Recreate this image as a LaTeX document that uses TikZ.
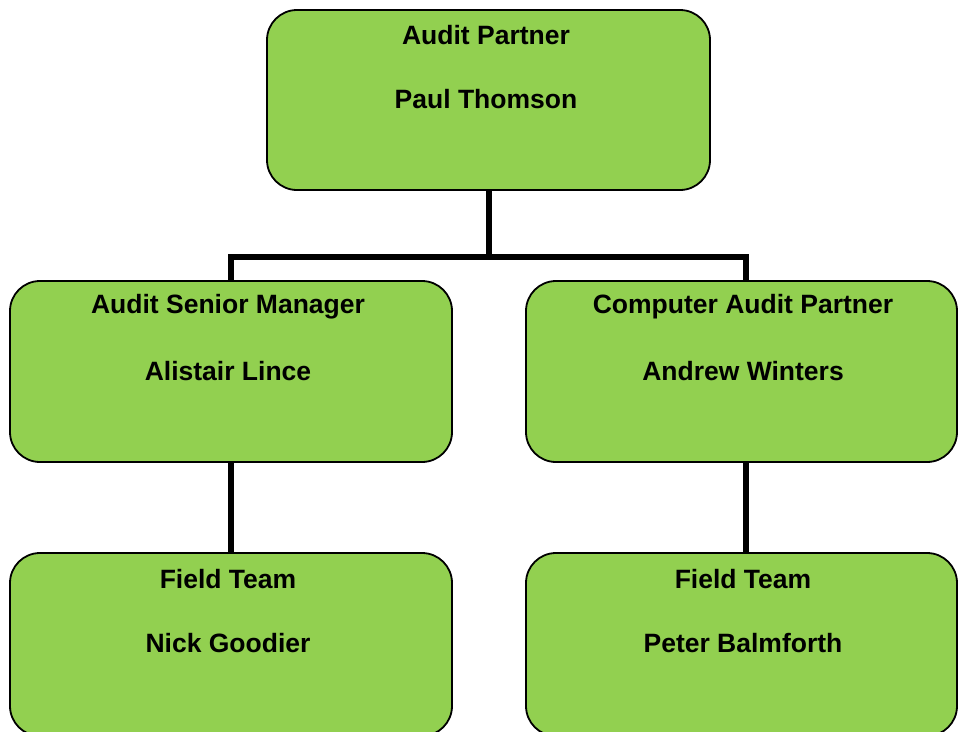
\documentclass[tikz,border=0pt]{standalone}
\usepackage{fontspec}
\setmainfont{Liberation Sans}
\definecolor{boxgreen}{HTML}{92D050}
\begin{document}
\begin{tikzpicture}[x=1pt,y=-1pt,
  card/.style={draw=black, line width=1.8pt, fill=boxgreen, rounded corners=30pt},
  lbl/.style={font=\bfseries\fontsize{26.5}{30}\selectfont, anchor=center, inner sep=0pt},
  conn/.style={draw=black, line width=5.5pt}]
\useasboundingbox (0,0) rectangle (958,731);
\clip (0,0) rectangle (958,731);
% boxes
\draw[card] (267,10) rectangle (710,190);
\draw[card] (10,281) rectangle (452,462);
\draw[card] (526,281) rectangle (957,462);
\draw[card] (10,553) rectangle (452,736);
\draw[card] (526,553) rectangle (957,736);
\coordinate (top) at (489,190);
\coordinate (lm) at (231,281);
\coordinate (rm) at (746,281);
\coordinate (lmb) at (231,462);
\coordinate (rmb) at (746,462);
\coordinate (lb) at (231,553);
\coordinate (rb) at (746,553);
% connectors
\draw[conn] (top) -- (489,257);
\draw[conn] (lm) -- (231,257) -- (746,257) -- (rm);
\draw[conn] (lmb) -- (lb);
\draw[conn] (rmb) -- (rb);
% texts
\node[lbl] (t1) at (486,35) {Audit Partner};
\node[lbl] (t2) at (486,99) {Paul Thomson};
\node[lbl] (l1) at (228,307) {Audit Senior Manager};
\node[lbl] (l2) at (228,371) {Alistair Lince};
\node[lbl] (r1) at (743,307) {Computer Audit Partner};
\node[lbl] (r2) at (743,371) {Andrew Winters};
\node[lbl] (b1) at (228,579) {Field Team};
\node[lbl] (b2) at (228,643) {Nick Goodier};
\node[lbl] (c1) at (743,579) {Field Team};
\node[lbl] (c2) at (743,643) {Peter Balmforth};
\end{tikzpicture}
\end{document}
